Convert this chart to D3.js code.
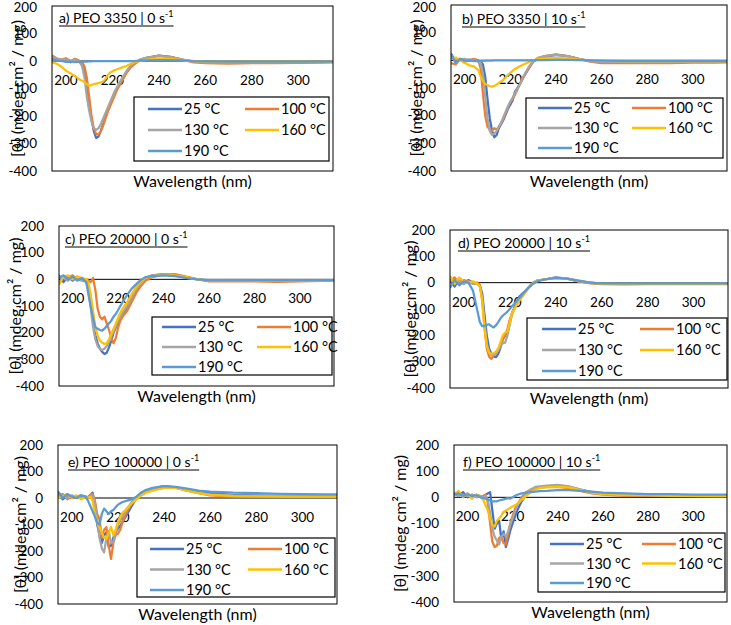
<!DOCTYPE html>
<html><head><meta charset="utf-8">
<script src="https://cdn.jsdelivr.net/npm/d3@7"></script>
<style>
html,body{margin:0;padding:0;background:#fff;}
svg text{font-family:Lato,"Liberation Sans",sans-serif;fill:#000;}
</style></head>
<body>
<svg id="chart" width="731" height="625"></svg>
<script>
// ---------- DATA ----------
const WL = [194,196,198,200,202,204,206,207,208,209,210,211,212,213,214,215,216,217,218,219,220,221,222,224,226,228,230,232,235,240,245,250,255,260,270,280,290,300,310,315];
const SERIES = ["25 °C","100 °C","130 °C","160 °C","190 °C"];
const COLORS = ["#4472C4","#ED7D31","#A5A5A5","#FFC000","#5B9BD5"];
const X_TICKS = [200,220,240,260,280,300];
const Y_TICKS = [200,100,0,-100,-200,-300,-400];
const PANEL_LABELS = ["a) PEO 3350 | 0 s","b) PEO 3350 | 10 s","c) PEO 20000 | 0 s","d) PEO 20000 | 10 s","e) PEO 100000 | 0 s","f) PEO 100000 | 10 s"];
const X_TITLE = "Wavelength (nm)";
const Y_TITLES = ["[θ] (mdeg.cm² / mg)","[θ] (mdeg.cm² / mg)","[θ] (mdeg.cm² / mg)","[θ] (mdeg.cm² / mg)","[θ] (mdeg.cm² / mg)","[θ] (mdeg cm² / mg)"];

// a) PEO 3350 | 0 s-1
const a_25  = [10,5,0,5,-5,5,-5,-10,-30,-80,-150,-210,-255,-280,-275,-255,-230,-205,-180,-160,-140,-120,-100,-70,-40,-18,-5,5,12,20,15,5,-2,-5,-5,-4,-5,-4,-3,-3];
const a_100 = [20,10,5,10,0,8,0,-5,-20,-60,-130,-200,-245,-265,-268,-255,-235,-210,-185,-165,-145,-125,-105,-75,-45,-22,-8,3,10,20,15,5,-5,-8,-10,-8,-8,-7,-6,-5];
const a_130 = [15,8,5,5,0,5,-5,-20,-60,-130,-180,-220,-245,-250,-245,-230,-210,-190,-170,-150,-130,-110,-95,-65,-38,-15,-3,5,12,18,14,5,-2,-5,-6,-5,-5,-4,-4,-3];
const a_160 = [-5,-10,-20,-35,-45,-55,-68,-72,-76,-85,-90,-88,-84,-82,-80,-78,-75,-65,-52,-42,-38,-33,-30,-24,-18,-10,-3,0,5,8,8,3,0,-2,-2,-2,-2,-2,-2,-2];
const a_190 = [8,2,0,-3,-2,-4,-3,-3,-2,-2,-1,-1,0,0,0,0,0,0,0,0,0,0,0,0,0,0,0,1,2,3,3,2,0,-1,-2,-2,-2,-2,-2,-2];

// b) PEO 3350 | 10 s-1
const b_25  = [25,-5,5,0,3,0,-3,-5,-15,-60,-140,-210,-255,-278,-270,-245,-230,-215,-195,-175,-160,-145,-115,-88,-58,-30,-5,5,12,20,15,5,-3,-5,-6,-5,-5,-4,-4,-3];
const b_100 = [-10,-15,5,-5,0,5,0,-30,-120,-200,-240,-250,-255,-245,-250,-240,-225,-210,-190,-170,-150,-140,-125,-90,-55,-30,-5,8,15,22,15,5,-5,-10,-10,-10,-10,-8,-8,-7];
const b_130 = [15,5,0,5,0,0,-5,-10,-50,-130,-210,-255,-270,-265,-255,-240,-225,-205,-185,-165,-150,-135,-120,-90,-55,-25,-3,8,15,20,15,5,-3,-6,-6,-6,-6,-5,-5,-4];
const b_160 = [5,10,0,-10,-18,-22,-35,-60,-75,-85,-90,-93,-95,-92,-88,-82,-76,-70,-62,-52,-45,-38,-32,-22,-14,-7,0,4,7,8,7,3,0,-2,-3,-3,-3,-3,-3,-3];
const b_190 = [22,-10,5,-2,0,-3,-2,-2,-2,-1,-1,-1,-1,0,0,0,0,0,0,0,0,0,0,0,0,0,0,1,1,2,2,1,0,-1,-2,-2,-2,-2,-2,-2];

// c) PEO 20000 | 0 s-1
const c_25  = [15,-10,10,-5,10,0,-5,-30,-90,-160,-210,-240,-260,-272,-280,-275,-255,-230,-200,-180,-160,-145,-130,-105,-70,-35,-10,5,15,20,15,8,0,-5,-6,-5,-6,-5,-4,-4];
const c_100 = [-15,10,5,15,0,5,0,-5,-10,5,-40,-110,-140,-150,-140,-165,-190,-220,-240,-220,-180,-155,-140,-118,-85,-50,-25,-5,8,18,20,10,0,-8,-8,-8,-10,-8,-6,-5];
const c_130 = [10,5,-5,10,0,-5,-10,-40,-110,-180,-225,-250,-262,-265,-260,-250,-235,-215,-195,-175,-155,-140,-125,-100,-68,-35,-10,5,15,18,15,5,0,-5,-5,-5,-5,-5,-4,-4];
const c_160 = [-20,10,15,0,10,5,0,-15,-60,-120,-180,-210,-230,-238,-242,-240,-225,-205,-185,-165,-145,-125,-110,-85,-55,-28,-8,5,12,18,15,8,0,-4,-4,-4,-4,-4,-4,-4];
const c_190 = [5,15,0,10,-5,5,-10,-60,-105,-145,-180,-185,-190,-192,-185,-175,-165,-155,-140,-130,-115,-100,-85,-58,-35,-18,-2,8,12,15,12,5,0,-3,-3,-3,-3,-3,-3,-3];

// d) PEO 20000 | 10 s-1
const d_25  = [10,-15,15,-5,10,0,-5,-10,-40,-120,-200,-250,-270,-280,-283,-270,-245,-215,-200,-190,-150,-115,-95,-55,-38,-20,0,8,12,20,15,5,0,-5,-6,-5,-5,-4,-4,-3];
const d_100 = [5,20,-5,10,5,0,0,-10,-60,-170,-250,-280,-290,-275,-270,-255,-235,-215,-200,-175,-140,-115,-100,-70,-45,-22,-5,8,12,18,15,5,-3,-6,-6,-6,-6,-6,-6,-6];
const d_130 = [15,0,10,-5,5,-5,-5,-15,-60,-150,-230,-265,-275,-275,-270,-255,-240,-230,-228,-200,-160,-120,-100,-65,-40,-20,-3,8,12,18,15,5,0,-5,-5,-5,-5,-5,-5,-5];
const d_160 = [25,-5,20,5,0,5,-5,-15,-70,-170,-240,-265,-270,-268,-262,-250,-225,-200,-190,-185,-150,-115,-100,-70,-45,-22,-3,8,12,18,15,8,0,-4,-4,-4,-4,-4,-4,-4];
const d_190 = [-20,10,-10,5,0,-30,-110,-150,-165,-165,-160,-158,-165,-170,-162,-150,-135,-125,-118,-110,-100,-90,-80,-60,-40,-20,-5,5,12,18,15,8,0,-3,-3,-3,-3,-3,-3,-3];

// e) PEO 100000 | 0 s-1
const e_25  = [20,-5,10,0,5,0,5,0,10,20,-20,-100,-140,-170,-140,-130,-185,-180,-150,-130,-115,-105,-90,-60,-30,0,15,25,35,45,40,30,22,18,12,10,8,8,7,7];
const e_100 = [10,15,-5,5,0,5,0,5,10,15,-10,-60,-80,-150,-120,-110,-180,-230,-170,-140,-135,-120,-90,-50,-20,-3,10,20,30,40,38,28,18,10,5,5,4,4,4,4];
const e_130 = [5,10,0,10,5,10,5,0,5,10,-20,-80,-150,-190,-205,-150,-125,-170,-165,-130,-100,-85,-70,-40,-15,0,15,25,35,45,40,28,20,14,10,8,7,6,6,6];
const e_160 = [0,5,15,0,10,-5,5,0,5,-10,-60,-95,-110,-130,-150,-155,-130,-110,-140,-120,-90,-70,-55,-40,-20,-5,10,20,28,38,38,28,18,12,7,6,5,5,5,5];
const e_190 = [25,0,15,5,0,10,5,-10,-30,-50,-70,-95,-100,-60,-40,-50,-60,-50,-45,-35,-25,-20,-15,-10,-5,5,20,30,38,45,42,35,28,24,20,18,16,15,14,14];

// f) PEO 100000 | 10 s-1
const f_25  = [15,5,20,0,10,5,0,5,10,15,20,-50,-120,-100,-90,-160,-130,-190,-160,-125,-100,-75,-50,-15,10,25,35,38,40,45,40,30,20,14,10,10,8,8,7,7];
const f_100 = [10,20,5,15,0,10,5,0,10,-20,-100,-170,-190,-185,-155,-150,-175,-180,-140,-100,-70,-45,-30,0,20,30,35,38,40,40,35,25,15,10,6,6,6,5,5,5];
const f_130 = [20,5,10,5,10,0,5,0,5,-10,-60,-120,-150,-165,-180,-150,-140,-150,-130,-100,-80,-55,-30,-5,15,30,40,42,45,48,42,30,20,14,10,8,7,7,6,6];
const f_160 = [5,25,0,15,-5,10,0,-10,-30,-50,-80,-105,-112,-90,-80,-70,-55,-50,-45,-40,-35,-30,-25,-10,5,20,30,35,38,40,38,28,18,12,8,8,6,6,5,5];
const f_190 = [10,15,5,12,5,8,0,-3,-5,-8,-12,-15,-15,-15,-12,-10,-8,-5,-3,-5,0,5,10,15,18,20,22,24,25,28,28,25,22,18,15,12,12,10,10,10];

const PANEL_DATA = [
  [a_25,a_100,a_130,a_160,a_190],
  [b_25,b_100,b_130,b_160,b_190],
  [c_25,c_100,c_130,c_160,c_190],
  [d_25,d_100,d_130,d_160,d_190],
  [e_25,e_100,e_130,e_160,e_190],
  [f_25,f_100,f_130,f_160,f_190]
];

// ---------- LAYOUT ----------
const LAYOUT = [
  {l:52, r:333, t:6,   b:171, tx:7,  ty:17, yt:-35, lg:{x:134,y:97, w:195,h:64,c1:14,c2:111,r0:12,dr:21}},
  {l:451,r:727, t:5,   b:171, tx:11, ty:19, yt:-35, lg:{x:526,y:98, w:197,h:60,c1:12,c2:106,r0:10,dr:20}},
  {l:59, r:334, t:226, b:386, tx:6,  ty:18, yt:-44, lg:{x:152,y:317,w:180,h:58,c1:10,c2:105,r0:10,dr:20}},
  {l:450,r:728, t:230, b:388, tx:8,  ty:18, yt:-40, lg:{x:527,y:318,w:200,h:62,c1:15,c2:113,r0:11,dr:21}},
  {l:58, r:337, t:445, b:604, tx:10, ty:22, yt:-38, lg:{x:137,y:538,w:198,h:59,c1:13,c2:111,r0:11,dr:20.5}},
  {l:454,r:727, t:445, b:602, tx:9,  ty:22, yt:-54, lg:{x:538,y:533,w:187,h:59,c1:12,c2:104,r0:11,dr:19.5}}
];
const X_DOMAIN = [194,315];
const Y_DOMAIN = [-400,200];

const svg = d3.select("#chart");
svg.append("rect").attr("width",731).attr("height",625).attr("fill","#fff");

PANEL_DATA.forEach((series, pi) => {
  const L = LAYOUT[pi];
  const x = d3.scaleLinear().domain(X_DOMAIN).range([L.l, L.r]);
  const y = d3.scaleLinear().domain(Y_DOMAIN).range([L.b, L.t]);
  const g = svg.append("g");
  const clipId = "clip"+pi;
  g.append("clipPath").attr("id",clipId).append("rect")
    .attr("x",L.l).attr("y",L.t).attr("width",L.r-L.l).attr("height",L.b-L.t);

  // y tick labels
  g.selectAll(".yt").data(Y_TICKS).join("text")
    .attr("x", L.l-15).attr("y", d=>Math.max(y(d), 7.5)).attr("dy","0.35em")
    .attr("text-anchor","end").attr("font-size",13.5).text(d=>d);

  // zero line
  g.append("line").attr("x1",L.l).attr("x2",L.r).attr("y1",y(0)).attr("y2",y(0))
    .attr("stroke","#000").attr("stroke-width",1);

  // x tick labels
  g.selectAll(".xt").data(X_TICKS).join("text")
    .attr("x", d=>x(d)).attr("y", y(0)+24)
    .attr("text-anchor","middle").attr("font-size",13.5).text(d=>d)
    .each(function(d){
      const w = this.getComputedTextLength();
      if (x(d)-w/2 < L.l) { d3.select(this).attr("text-anchor","start").attr("x", L.l); }
    });

  // lines
  const line = d3.line().x((d,i)=>x(WL[i])).y(d=>y(d));
  const lg = g.append("g").attr("clip-path",`url(#${clipId})`);
  series.forEach((vals, si) => {
    lg.append("path").attr("d", line(vals)).attr("fill","none")
      .attr("stroke", COLORS[si]).attr("stroke-width",2.25)
      .attr("stroke-linejoin","round");
  });

  // frame
  g.append("rect").attr("x",L.l).attr("y",L.t).attr("width",L.r-L.l).attr("height",L.b-L.t)
    .attr("fill","none").attr("stroke","#000").attr("stroke-width",1);

  // panel title
  const tt = g.append("text").attr("x",L.l+L.tx).attr("y",L.t+L.ty).attr("font-size",14);
  tt.append("tspan").text(PANEL_LABELS[pi]);
  tt.append("tspan").attr("font-size",9).attr("dy",-6).text("-1");
  const bb = tt.node().getBBox();
  g.append("line").attr("x1",bb.x).attr("x2",bb.x+bb.width)
    .attr("y1",L.t+L.ty+3).attr("y2",L.t+L.ty+3).attr("stroke","#000").attr("stroke-width",1);

  // axis titles
  g.append("text").attr("x",(L.l+L.r)/2).attr("y",L.b+16).attr("text-anchor","middle")
    .attr("font-size",16).text(X_TITLE);
  const cy = (L.t+L.b)/2, cx = L.l+L.yt;
  g.append("text").attr("transform",`translate(${cx},${cy}) rotate(-90)`)
    .attr("text-anchor","middle").attr("dy","0.35em").attr("font-size",16).text(Y_TITLES[pi]);

  // legend
  const G = L.lg;
  const leg = g.append("g");
  leg.append("rect").attr("x",G.x).attr("y",G.y).attr("width",G.w).attr("height",G.h)
    .attr("fill","#fff").attr("stroke","#000").attr("stroke-width",1.2);
  SERIES.forEach((name, si) => {
    const col = si % 2, row = Math.floor(si/2);
    const lx = G.x + (col===0?G.c1:G.c2);
    const ly = G.y + G.r0 + row*G.dr;
    leg.append("line").attr("x1",lx).attr("x2",lx+34).attr("y1",ly).attr("y2",ly)
      .attr("stroke",COLORS[si]).attr("stroke-width",2.5);
    leg.append("text").attr("x",lx+36).attr("y",ly).attr("dy","0.35em")
      .attr("font-size",14.5).text(name);
  });
});
</script>
</body></html>
